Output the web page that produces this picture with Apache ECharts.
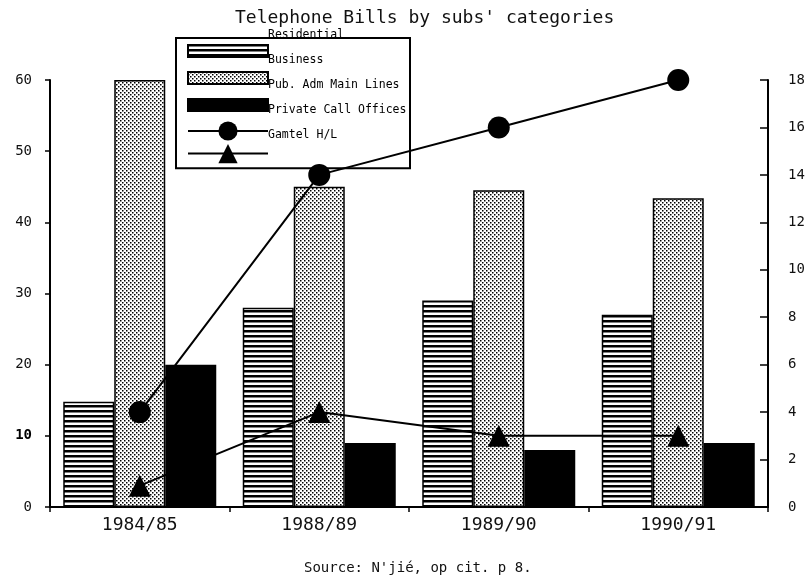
<!DOCTYPE html>
<html>
<head>
<meta charset="utf-8">
<script src="https://cdn.jsdelivr.net/npm/echarts@6.0.0/dist/echarts.min.js"></script>
<style>
  html, body { margin: 0; padding: 0; background: #fff; }
  #chart { width: 809px; height: 582px; }
</style>
</head>
<body>
<div id="chart"></div>
<script>
// Periods on the category axis
const periods = ['1984/85', '1988/89', '1989/90', '1990/91'];

// Series names, in legend order
const seriesNames = ['Residential', 'Business', 'Pub. Adm Main Lines', 'Private Call Offices', 'Gamtel H/L'];

// Bar values (left axis)
const residential = [14.8, 28, 29, 27];
const business = [60, 45, 44.5, 43.4];
const pubAdmMainLines = [20, 9, 8, 9];

// Line values (right axis)
const privateCallOffices = [4, 14, 16, 18];
const gamtelHL = [0.9, 4, 3, 3];

// Axis tick settings
const leftAxisMax = 60, leftAxisStep = 10;
const rightAxisMax = 18, rightAxisStep = 2;

const FONT = 'DejaVu Sans Mono';

// Horizontal hatching for the first bar series
function stripePattern() {
  const c = document.createElement('canvas');
  c.width = 8; c.height = 5;
  const g = c.getContext('2d');
  g.fillStyle = '#fff'; g.fillRect(0, 0, 8, 5);
  g.fillStyle = '#000'; g.fillRect(0, 0, 8, 2.5);
  return { image: c, repeat: 'repeat' };
}

// Fine dot screen for the second bar series
function dotPattern() {
  const c = document.createElement('canvas');
  c.width = 4; c.height = 4;
  const g = c.getContext('2d');
  g.fillStyle = '#fff'; g.fillRect(0, 0, 4, 4);
  g.fillStyle = '#000';
  g.fillRect(0, 0, 1.5, 1.5);
  g.fillRect(2, 2, 1.5, 1.5);
  return { image: c, repeat: 'repeat' };
}

// Flat bar swatch for the legend (thin rectangle in a taller box)
const barIcon = 'path://M0,0 M0,6 L80,6 L80,18 L0,18 Z M80,24';

const chart = echarts.init(document.getElementById('chart'), null, { renderer: 'canvas' });

const barStyle = (color) => ({ color: color, borderColor: '#000', borderWidth: 1.5 });

chart.setOption({
  backgroundColor: '#fff',
  animation: false,
  title: [
    {
      text: "Telephone Bills by subs' categories",
      left: 230, top: 4,
      textStyle: { fontFamily: FONT, fontSize: 18, fontWeight: 'normal', color: '#111' }
    },
    {
      text: "Source: N'jié, op cit. p 8.",
      left: 299, top: 556,
      textStyle: { fontFamily: FONT, fontSize: 14, fontWeight: 'normal', color: '#111' }
    }
  ],
  legend: [
    {
      // swatches inside a framed box
      data: seriesNames.map((n, i) => (i < 3 ? { name: n, icon: barIcon } : { name: n })),
      orient: 'vertical',
      left: 176, top: 38,
      itemWidth: 80, itemHeight: 24, itemGap: 1,
      padding: [0, 141, 5, 11],
      borderColor: '#000', borderWidth: 2,
      formatter: () => '',
      textStyle: { fontSize: 1 }
    },
    {
      // labels, set a little above their swatches
      data: seriesNames,
      icon: 'none',
      orient: 'vertical',
      left: 185, top: 28,
      itemWidth: 78, itemHeight: 14, itemGap: 11,
      padding: 0,
      textStyle: { fontFamily: FONT, fontSize: 11.5, color: '#000', lineHeight: 14 }
    }
  ],
  grid: { left: 50, right: 41, top: 80, bottom: 75, containLabel: false, outerBoundsMode: 'none' },
  xAxis: {
    type: 'category',
    data: periods,
    axisLine: { show: true, lineStyle: { color: '#000', width: 2 } },
    axisTick: { show: true, alignWithLabel: false, length: 5, lineStyle: { color: '#000', width: 1.5 } },
    axisLabel: { color: '#111', fontFamily: FONT, fontSize: 18, margin: 9 },
    splitLine: { show: false }
  },
  yAxis: [
    {
      type: 'value', position: 'left',
      min: 0, max: leftAxisMax, interval: leftAxisStep,
      axisLine: { show: true, lineStyle: { color: '#000', width: 2 } },
      axisTick: { show: true, inside: false, length: 5, lineStyle: { color: '#000', width: 1.5 } },
      axisLabel: {
        color: '#111', fontFamily: FONT, fontSize: 14, margin: 18,
        formatter: (v) => (v === 10 ? '{b|10}' : String(v)),
        rich: { b: { fontFamily: FONT, fontSize: 14, fontWeight: 'bold', color: '#000' } }
      },
      splitLine: { show: false }
    },
    {
      type: 'value', position: 'right',
      min: 0, max: rightAxisMax, interval: rightAxisStep,
      axisLine: { show: true, lineStyle: { color: '#000', width: 2 } },
      axisTick: { show: true, inside: true, length: 8, lineStyle: { color: '#000', width: 1.5 } },
      axisLabel: { color: '#111', fontFamily: FONT, fontSize: 14, margin: 20 },
      splitLine: { show: false }
    }
  ],
  series: [
    {
      name: seriesNames[0], type: 'bar', data: residential,
      barWidth: 51, barGap: '0%',
      itemStyle: barStyle(stripePattern())
    },
    {
      name: seriesNames[1], type: 'bar', data: business,
      barWidth: 51, barGap: '0%',
      itemStyle: barStyle(dotPattern())
    },
    {
      name: seriesNames[2], type: 'bar', data: pubAdmMainLines,
      barWidth: 51, barGap: '0%',
      itemStyle: barStyle('#000')
    },
    {
      name: seriesNames[3], type: 'line', yAxisIndex: 1, data: privateCallOffices,
      symbol: 'circle', symbolSize: 22, z: 5,
      lineStyle: { color: '#000', width: 2 },
      itemStyle: { color: '#000' }
    },
    {
      name: seriesNames[4], type: 'line', yAxisIndex: 1, data: gamtelHL,
      symbol: 'triangle', symbolSize: 22, z: 5,
      lineStyle: { color: '#000', width: 2 },
      itemStyle: { color: '#000' }
    }
  ]
});
</script>
</body>
</html>
